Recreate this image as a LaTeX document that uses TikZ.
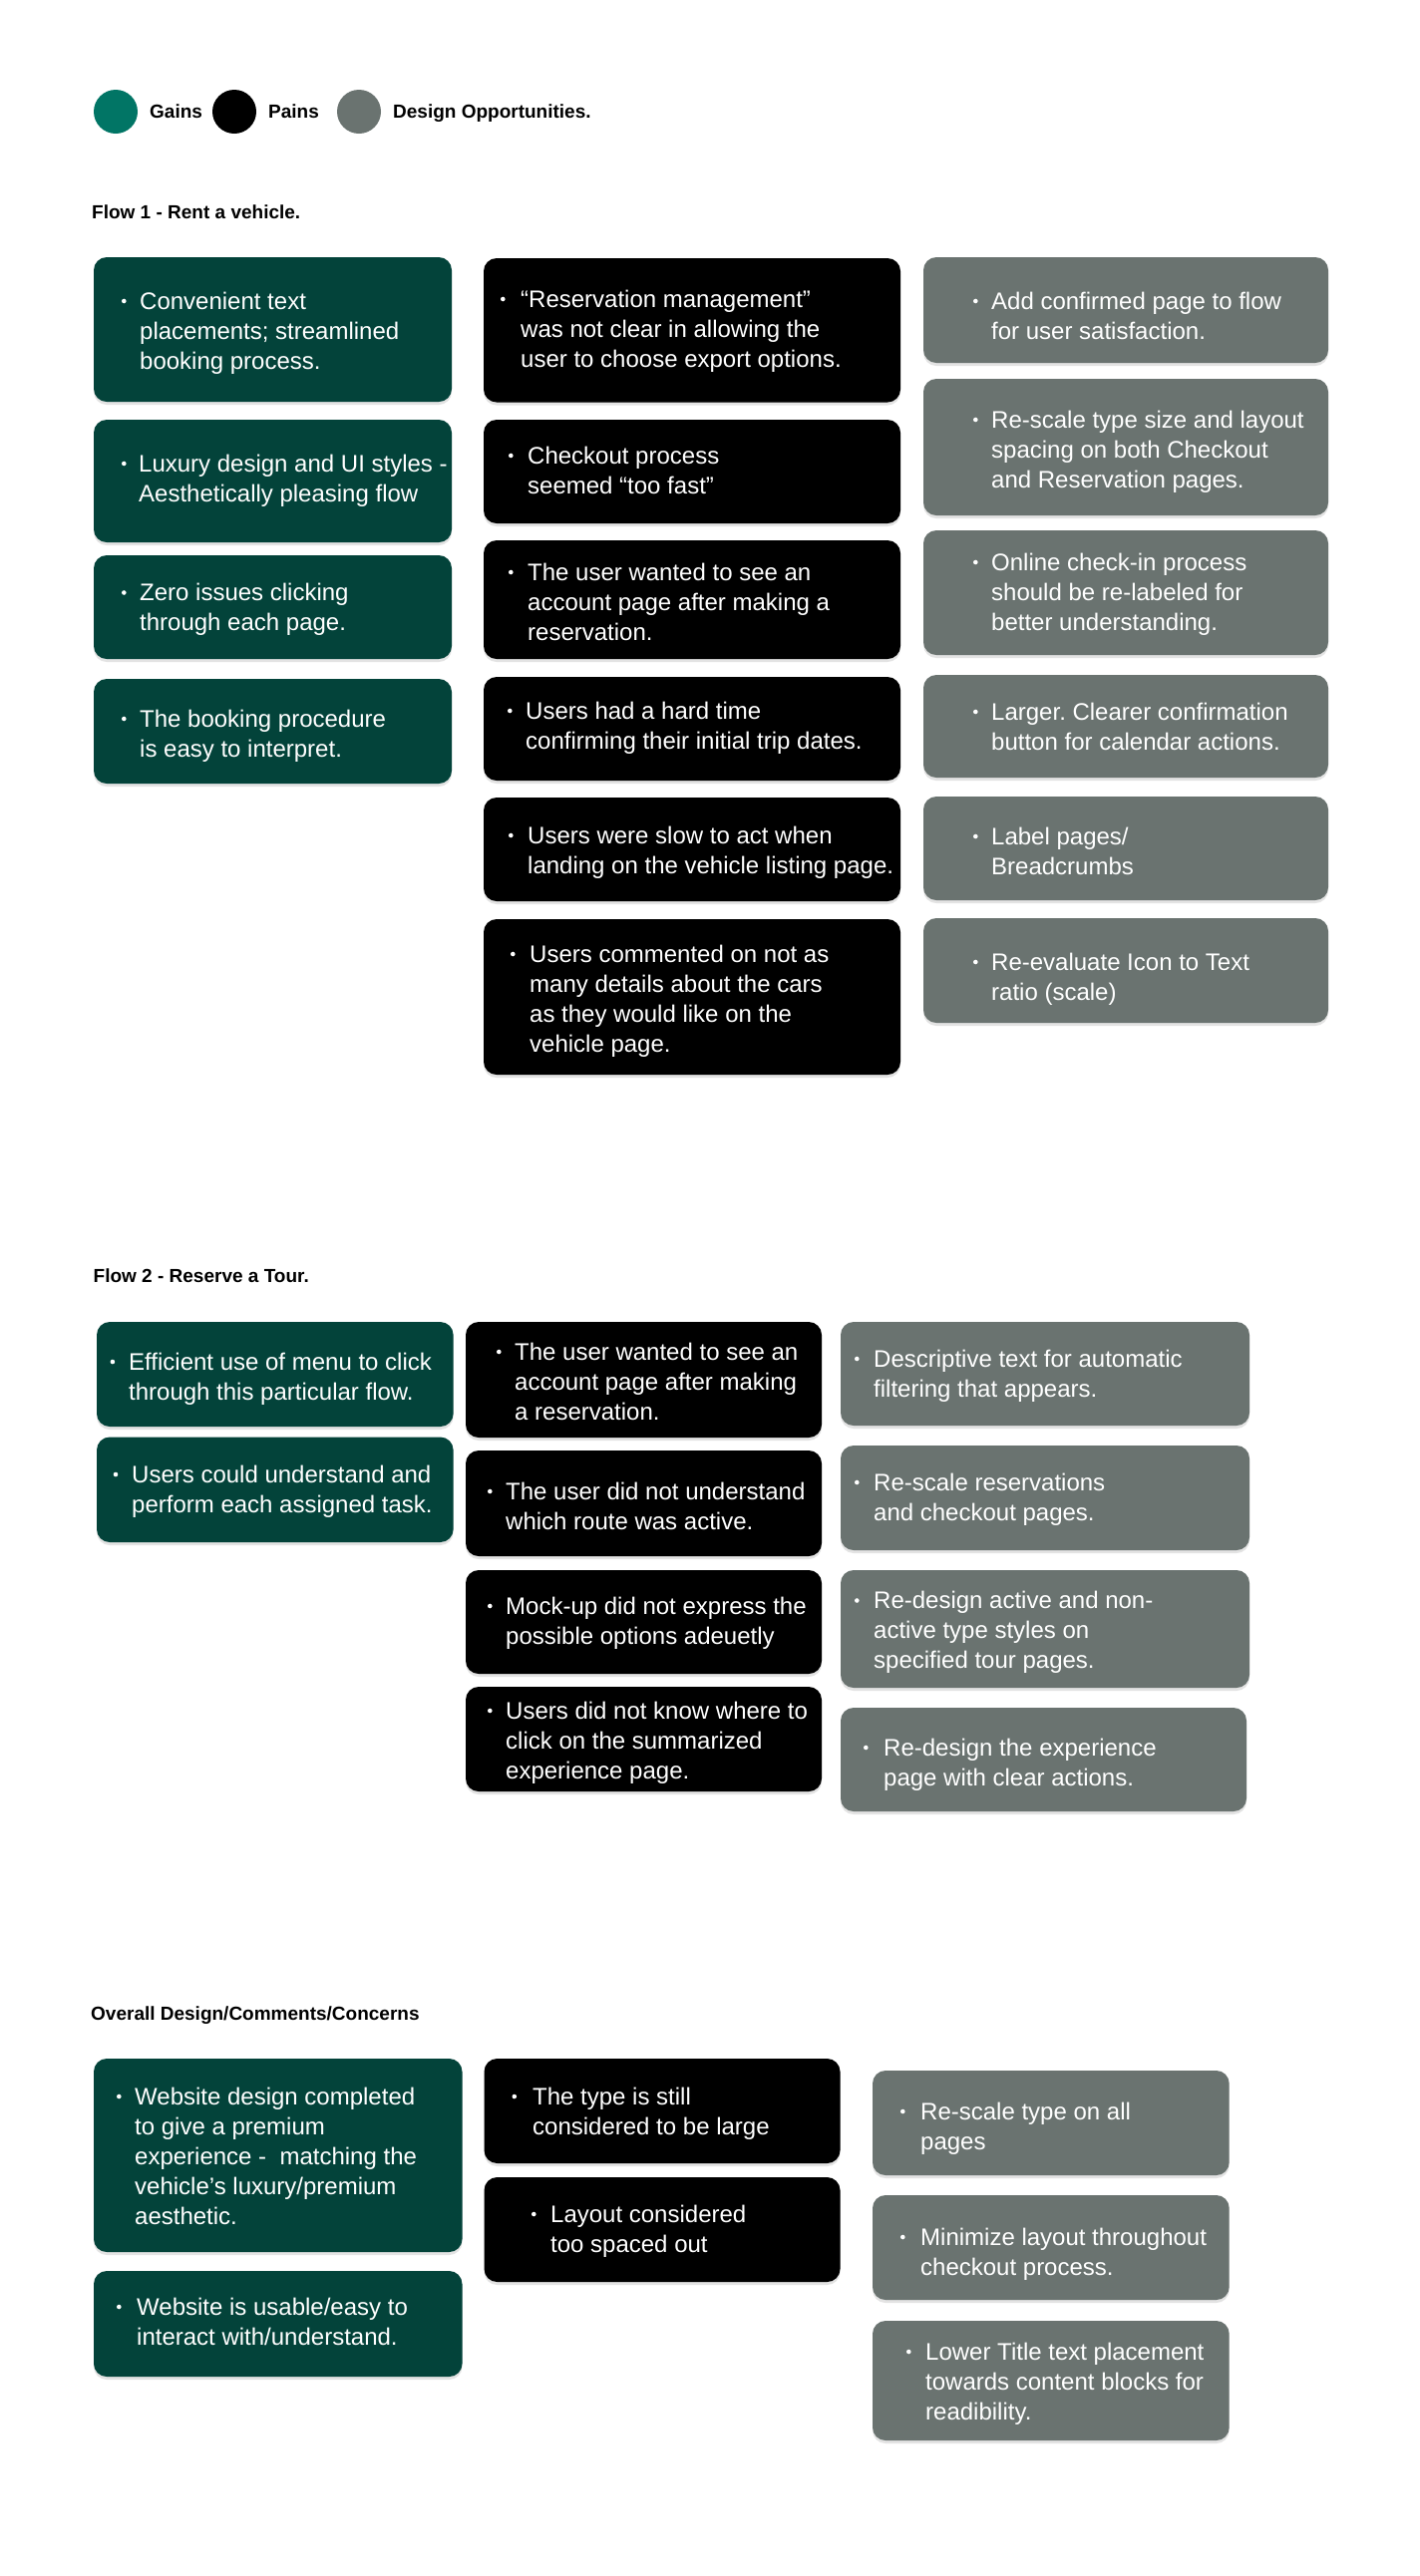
\documentclass[tikz,border=0pt]{standalone}
\usepackage{fontspec}
\setmainfont{Liberation Sans}
\usetikzlibrary{fit,shadows}
\frenchspacing
\definecolor{gainC}{HTML}{03433A}
\definecolor{legG}{HTML}{017565}
\definecolor{oppC}{HTML}{6A7370}
\tikzset{
 card/.style={rounded corners=13pt, inner sep=0pt, outer sep=0pt, draw=none,
   drop shadow={opacity=0.22, shadow xshift=0pt, shadow yshift=-3pt}},
 gainbox/.style={card, fill=gainC},
 painbox/.style={card, fill=black},
 oppbox/.style={card, fill=oppC},
 cardtxt/.style={anchor=base west, inner sep=0pt, text=white, font=\frenchspacing\fontsize{24}{30}\selectfont},
 ttl/.style={anchor=base west, inner sep=0pt, font=\bfseries\fontsize{19}{23}\selectfont},
 legdot/.style={circle, minimum size=44pt, inner sep=0pt}
}
\newcommand\card[8]{%
 \node[#2, fit={(#3) (#4)}] (#1) {};
 \fill[white] (#5+2.3,#7-8) circle (2.3pt);
 \node[cardtxt] (#1t) at (#6,#7) {\parbox[t]{400pt}{\frenchspacing #8}};
}
\begin{document}
\begin{tikzpicture}[x=1pt,y=-1pt]
\useasboundingbox (0,0) rectangle (1424,2584);
\fill[white] (0,0) rectangle (1424,2584);
% legend
\node[legdot, fill=legG] (lg) at (116,112) {};
\node[ttl] (lgt) at (150,118.3) {Gains};
\node[legdot, fill=black] (lp) at (235,112) {};
\node[ttl] (lpt) at (269,118.3) {Pains};
\node[legdot, fill=oppC] (lo) at (360,112) {};
\node[ttl] (lot) at (394,118.3) {Design Opportunities.};
% titles
\node[ttl] (t1) at (92,219.3) {Flow 1 - Rent a vehicle.};
\node[ttl] (t2) at (93.5,1286) {Flow 2 - Reserve a Tour.};
\node[ttl] (t3) at (91,2026) {Overall Design/Comments/Concerns};
% Flow 1 gains
\card{a1}{gainbox}{94,258}{453,403}{122}{140}{310}{Convenient text\\placements; streamlined\\booking process.}
\card{a2}{gainbox}{94,421}{453,544}{122}{139}{473}{Luxury design and UI styles -\\Aesthetically pleasing flow}
\card{a3}{gainbox}{94,557}{453,661}{122}{140}{602.5}{Zero issues clicking\\through each page.}
\card{a4}{gainbox}{94,681}{453,786}{122}{140}{729}{The booking procedure\\is easy to interpret.}
% Flow 1 pains
\card{b1}{painbox}{485,259}{903,403.5}{502}{522}{308}{“Reservation management”\\was not clear in allowing the\\user to choose export options.}
\card{b2}{painbox}{485,421}{903,525}{510}{529}{465}{Checkout process\\seemed “too fast”}
\card{b3}{painbox}{485,542}{903,661}{510}{529}{582}{The user wanted to see an\\account page after making a\\reservation.}
\card{b4}{painbox}{485,679}{903,783}{509}{527}{721}{Users had a hard time\\confirming their initial trip dates.}
\card{b5}{painbox}{485,800}{903,904}{510}{529}{846}{Users were slow to act when\\landing on the vehicle listing page.}
\card{b6}{painbox}{485,922}{903,1078}{512}{531}{965}{Users commented on not as\\many details about the cars\\as they would like on the\\vehicle page.}
% Flow 1 opportunities
\card{c1}{oppbox}{926,258}{1332,364}{976}{994}{310}{Add confirmed page to flow\\for user satisfaction.}
\card{c2}{oppbox}{926,380}{1332,517}{976}{994}{429}{Re-scale type size and layout\\spacing on both Checkout\\and Reservation pages.}
\card{c3}{oppbox}{926,532}{1332,657}{976}{994}{572}{Online check-in process\\should be re-labeled for\\better understanding.}
\card{c4}{oppbox}{926,677}{1332,780}{976}{994}{722}{Larger. Clearer confirmation\\button for calendar actions.}
\card{c5}{oppbox}{926,799}{1332,903}{976}{994}{847}{Label pages/\\Breadcrumbs}
\card{c6}{oppbox}{926,921}{1332,1026}{976}{994}{973}{Re-evaluate Icon to Text\\ratio (scale)}
% Flow 2 gains
\card{d1}{gainbox}{97,1326}{454.6,1431}{110.6}{129}{1374}{Efficient use of menu to click\\through this particular flow.}
\card{d2}{gainbox}{97,1441.5}{454.6,1547}{113.7}{132}{1487}{Users could understand and\\perform each assigned task.}
% Flow 2 pains
\card{e1}{painbox}{467,1326}{824,1442}{498}{516}{1364}{The user wanted to see an\\account page after making\\a reservation.}
\card{e2}{painbox}{467,1455}{824,1561}{489}{507}{1504}{The user did not understand\\which route was active.}
\card{e3}{painbox}{467,1575}{824,1679}{489}{507}{1619}{Mock-up did not express the\\possible options adeuetly}
\card{e4}{painbox}{467,1692}{824,1797}{489}{507}{1724}{Users did not know where to\\click on the summarized\\experience page.}
% Flow 2 opportunities
\card{f1}{oppbox}{843,1326}{1253,1430}{857}{876}{1371}{Descriptive text for automatic\\filtering that appears.}
\card{f2}{oppbox}{843,1450}{1253,1555}{857}{876}{1495}{Re-scale reservations\\and checkout pages.}
\card{f3}{oppbox}{843,1575}{1253,1693}{857}{876}{1613.5}{Re-design active and non-\\active type styles on\\specified tour pages.}
\card{f4}{oppbox}{843,1713}{1250,1817}{866}{886}{1761}{Re-design the experience\\page with clear actions.}
% Overall gains
\card{g1}{gainbox}{94,2065}{463.5,2259}{117}{135}{2111}{Website design completed\\to give a premium\\experience -\ \ matching the\\vehicle’s luxury/premium\\aesthetic.}
\card{g2}{gainbox}{94,2278}{463.5,2384}{117}{137}{2322}{Website is usable/easy to\\interact with/understand.}
% Overall pains
\card{h1}{painbox}{485.5,2065}{842.5,2170}{513.5}{534}{2111}{The type is still\\considered to be large}
\card{h2}{painbox}{485.5,2184}{842.5,2289}{533}{552}{2229}{Layout considered\\too spaced out}
% Overall opportunities
\card{i1}{oppbox}{875,2077}{1232.7,2182}{903}{923}{2126}{Re-scale type on all\\pages}
\card{i2}{oppbox}{875,2202}{1232.7,2307}{903}{923}{2252}{Minimize layout throughout\\checkout process.}
\card{i3}{oppbox}{875,2328}{1232.7,2448}{909}{928}{2367}{Lower Title text placement\\towards content blocks for\\readibility.}
\end{tikzpicture}
\end{document}
